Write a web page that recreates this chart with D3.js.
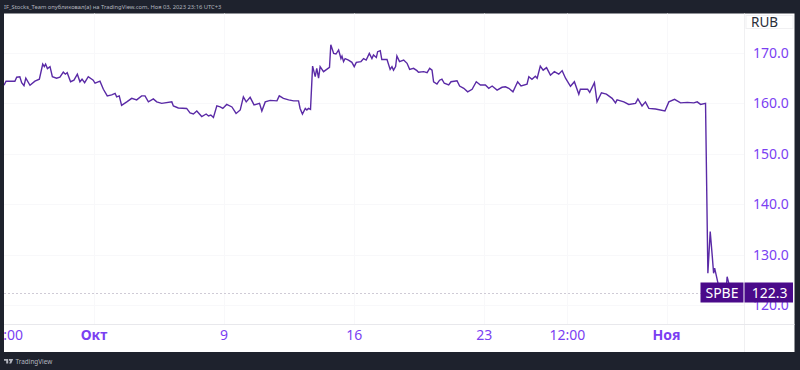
<!DOCTYPE html>
<html>
<head>
<meta charset="utf-8">
<script src="https://cdn.jsdelivr.net/npm/d3@7"></script>
<style>
  html, body { margin: 0; padding: 0; background: #1e222d; }
  svg { display: block; }
  text { font-family: "Noto Sans", sans-serif; }
</style>
</head>
<body>
<svg width="800" height="370"></svg>
<script>
// Trading days counted from the first session of October
const days = [
  -3.46,-3.38,-3.23,-3.04,-2.97,-2.85,-2.78,-2.69,-2.62,-2.46,-2.27,-2.10,-1.97,-1.91,-1.86,-1.79,-1.69,-1.60,-1.44,-1.31,
  -1.18,-1.10,-1.03,-0.90,-0.77,-0.64,-0.54,-0.46,-0.36,-0.22,-0.03,0.04,0.23,0.36,0.51,0.68,0.81,0.87,0.97,1.06,
  1.26,1.45,1.64,1.83,1.96,2.09,2.28,2.41,2.60,2.99,3.05,3.24,3.56,3.69,3.82,3.95,4.14,4.31,4.40,4.49,
  4.59,4.72,4.85,4.95,5.10,5.30,5.46,5.62,5.74,5.85,6.00,6.15,6.36,6.45,6.58,6.77,
  7.03,7.12,7.28,7.48,7.67,7.86,7.92,8.01,8.12,8.18,8.24,8.32,8.40,8.50,8.56,8.63,8.69,8.82,9.05,9.10,
  9.21,9.30,9.40,9.49,9.53,9.59,9.65,9.78,9.91,10.0,10.08,10.26,10.36,10.46,10.58,10.68,10.74,10.85,10.90,11.0,
  11.06,11.26,11.38,11.45,11.51,11.59,11.64,11.74,11.90,12.03,12.13,12.28,12.41,12.47,12.67,12.80,12.90,12.99,13.05,13.18,
  13.28,13.37,13.46,13.63,13.72,13.95,14.05,14.21,14.36,14.53,14.69,14.85,15.04,15.17,15.30,15.49,15.68,15.81,15.94,16.10,
  16.28,16.41,16.64,16.71,16.83,16.96,17.03,
  17.15,17.26,17.39,17.54,17.69,17.86,17.99,18.12,18.31,18.46,18.63,18.69,18.97,19.05,19.23,19.33,19.50,19.69,19.91,20.04,
  20.10,20.36,20.55,20.81,20.90,21.06,21.19,21.32,21.58,21.94,22.09,22.31,22.54,22.80,23.05,23.18,23.31,23.50,
  23.59,23.68,23.76,23.81,23.85,23.98,24.08,24.20,24.31,24.33,24.41,24.55
];
const prices = [
  163.6,164.4,164.4,164.4,165.2,165.3,164.1,163.5,165.0,163.6,164.4,164.8,167.8,167.3,167.8,166.9,167.3,165.3,165.0,165.2,
  166.2,165.8,166.1,164.3,164.6,165.8,164.3,164.8,164.1,165.3,164.6,164.0,164.4,162.8,161.5,161.7,162.0,161.3,161.5,159.6,
  160.3,161.0,160.7,161.5,161.5,160.3,160.9,160.3,160.0,160.3,159.5,159.1,159.0,158.1,157.9,158.5,157.4,157.9,157.5,157.7,
  157.2,159.5,159.3,159.0,159.8,159.3,158.0,158.7,161.3,160.3,161.2,159.7,160.0,158.5,160.3,160.6,
  160.5,161.5,161.0,160.7,160.5,160.5,159.0,157.9,159.0,158.7,159.0,158.8,167.4,165.3,166.95,165.0,167.3,166.3,167.15,171.65,
  169.93,169.8,170.6,168.9,169.4,168.3,168.9,168.6,168.15,167.3,168.15,168.3,168.9,168.6,169.93,168.9,169.6,169.1,170.26,170.46,
  168.7,168.7,166.75,167.3,166.6,167.3,169.4,168.3,168.6,167.95,166.75,166.95,166.5,166.2,166.3,166.1,166.95,166.6,164.3,163.85,
  164.6,164.8,164.0,163.65,164.3,164.5,163.45,163.0,162.3,162.8,164.3,163.65,163.65,163.0,163.45,162.65,163.2,163.3,163.0,162.3,
  164.3,163.45,163.8,165.3,164.8,165.4,165.0,
  167.4,166.6,167.1,165.6,166.3,165.8,166.5,165.0,163.4,164.3,161.8,162.8,162.8,162.2,164.1,160.3,162.1,161.85,161.0,160.1,
  160.7,160.3,159.8,160.0,160.9,159.5,160.3,159.0,158.9,158.5,160.3,160.8,160.1,160.2,160.1,160.3,159.8,160.0,
  126.3,134.56,129.6,126.3,127.3,124.3,122.6,123.0,124.3,125.6,124.0,122.3
];
const lastPrice = 122.3;
const symbol = 'SPBE';
const currency = 'RUB';
const priceTicks = [120, 130, 140, 150, 160, 170];
const timeTicks = [-3.42, 0, 5, 10, 15, 18.19, 22];
const timeLabels = ['12:00', 'Окт', '9', '16', '23', '12:00', 'Ноя'];
const boldLabels = ['Окт', 'Ноя'];
const headerText = 'IF_Stocks_Team опубликовал(а) на TradingView.com, Ноя 03, 2023 23:16 UTC+3';

const purple = '#7b3ff2';
const deep = '#4a0a8a';
const gridColour = '#f8f8fa';

const frame = {left: 4, right: 794.5, top: 13.5, bottom: 352};
const axisX = 744;
const axisY = 324;

const svg = d3.select('svg');

const x = d3.scaleLinear().domain([0, 22]).range([94, 666.5]);
const y = d3.scaleLinear().domain([120, 170]).range([305, 53]);

svg.append('defs').append('clipPath').attr('id', 'frame-clip')
  .append('rect')
  .attr('x', frame.left).attr('y', frame.top)
  .attr('width', frame.right - frame.left).attr('height', frame.bottom - frame.top);

// Page furniture
svg.append('text').attr('x', 4).attr('y', 8.5).attr('font-size', 5.8).attr('fill', '#b2b5be').text(headerText);

svg.append('rect')
  .attr('x', frame.left).attr('y', frame.top)
  .attr('width', frame.right - frame.left).attr('height', frame.bottom - frame.top)
  .attr('fill', '#fff');

// Grid
svg.append('g').selectAll('line').data(priceTicks).join('line')
  .attr('x1', frame.left).attr('x2', axisX)
  .attr('y1', d => Math.round(y(d)) + 0.5).attr('y2', d => Math.round(y(d)) + 0.5)
  .attr('stroke', gridColour);
svg.append('g').selectAll('line').data(timeTicks.slice(1)).join('line')
  .attr('x1', d => Math.round(x(d)) + 0.5).attr('x2', d => Math.round(x(d)) + 0.5)
  .attr('y1', frame.top).attr('y2', axisY)
  .attr('stroke', gridColour);

// Axis borders
svg.append('line').attr('x1', axisX + 0.5).attr('x2', axisX + 0.5).attr('y1', frame.top).attr('y2', frame.bottom).attr('stroke', '#f0f0f2');
svg.append('line').attr('x1', frame.left).attr('x2', frame.right).attr('y1', axisY + 0.5).attr('y2', axisY + 0.5).attr('stroke', '#e8e8ec');

// Price line
const line = d3.line().x((d, i) => x(days[i])).y(d => y(d));
svg.append('path').datum(prices)
  .attr('d', line)
  .attr('fill', 'none')
  .attr('stroke', '#5a2aa6')
  .attr('stroke-width', 1.4)
  .attr('clip-path', 'url(#frame-clip)');

// Last price guide
svg.append('line')
  .attr('x1', frame.left).attr('x2', axisX)
  .attr('y1', Math.round(y(lastPrice)) + 0.5).attr('y2', Math.round(y(lastPrice)) + 0.5)
  .attr('stroke', '#cfcbd6').attr('stroke-dasharray', '2 2');

// Axes
const yAxis = d3.axisRight(y).tickValues(priceTicks).tickFormat(d3.format('.1f')).tickSize(0).tickPadding(9);
const yG = svg.append('g').attr('transform', `translate(${axisX},0)`).call(yAxis);
yG.select('.domain').remove();
yG.selectAll('text').attr('font-size', 14).attr('fill', purple).style('font-family', '"Noto Sans", sans-serif');

const xAxis = d3.axisBottom(x).tickValues(timeTicks).tickFormat((d, i) => timeLabels[i]).tickSize(0).tickPadding(6);
const xG = svg.append('g').attr('clip-path', 'url(#frame-clip)').call(xAxis);
xG.select('.domain').remove();
xG.selectAll('text')
  .attr('font-size', 14)
  .attr('fill', purple)
  .style('font-family', '"Noto Sans", sans-serif')
  .attr('font-weight', (d, i) => boldLabels.includes(timeLabels[i]) ? 700 : 400);
xG.selectAll('.tick').attr('transform', d => `translate(${x(d)},${axisY})`);

// Currency box
svg.append('rect').attr('x', 746).attr('y', 15.5).attr('width', 47).attr('height', 13).attr('fill', '#fff').attr('stroke', '#f0f0f2');
svg.append('text').attr('x', 751).attr('y', 27).attr('font-size', 13.5).attr('fill', '#2a2e39').text(currency);

// Last price labels
const labelY = Math.round(y(lastPrice));
const tags = svg.append('g');
tags.append('rect').attr('x', 700.5).attr('y', labelY - 10.5).attr('width', 43).attr('height', 20).attr('fill', deep);
tags.append('rect').attr('x', 744.5).attr('y', labelY - 10.5).attr('width', 48.5).attr('height', 20).attr('fill', deep);
tags.append('text').attr('x', 722).attr('y', labelY + 4.5).attr('text-anchor', 'middle').attr('font-size', 14).attr('fill', '#fff').text(symbol);
tags.append('text').attr('x', 787.5).attr('y', labelY + 4.5).attr('text-anchor', 'end').attr('font-size', 14).attr('fill', '#fff').text(d3.format('.1f')(lastPrice));

// Footer logo
svg.append('path')
  .attr('d', 'M4 359h4.2v4.4h-2v-2.6H4zM9 359h4.2l-2 4.4H9.2l1.1-2.6H9z')
  .attr('fill', '#b2b5be');
svg.append('text').attr('x', 15.5).attr('y', 364).attr('font-size', 6.4).attr('fill', '#b2b5be').text('TradingView');
</script>
</body>
</html>
